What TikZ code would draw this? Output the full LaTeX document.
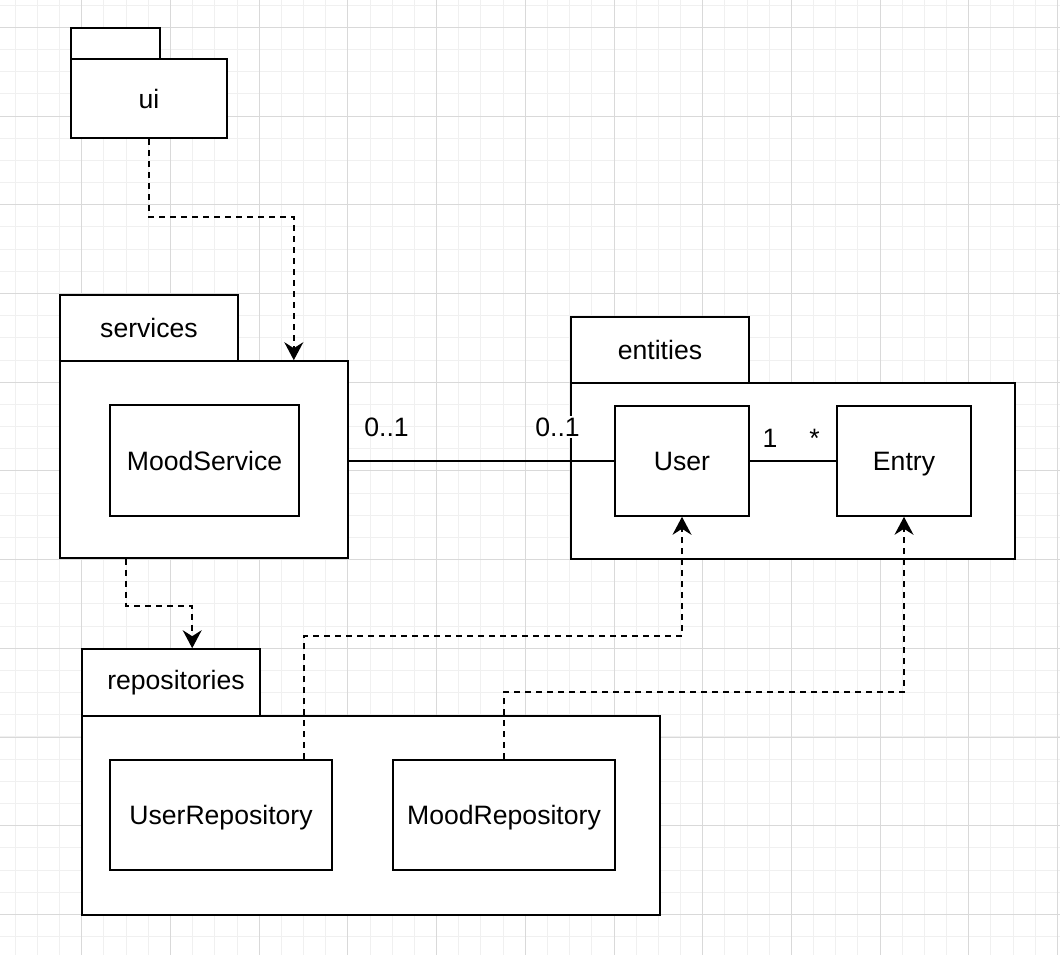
\documentclass[tikz,border=0pt]{standalone}
\usepackage{fontspec}
\setmainfont{Liberation Sans}
\usetikzlibrary{arrows.meta}
\begin{document}
\begin{tikzpicture}[x=1pt,y=-1pt,
  minorgrid/.style={draw=black!6, line width=0.8pt},
  majorgrid/.style={draw=black!15, line width=0.8pt},
  shapebox/.style={draw=black, line width=1.6pt, fill=white, inner sep=0pt,
    font=\fontsize{26.6}{32}\selectfont},
  classbox/.style={shapebox, text height=19pt, text depth=0pt},
  pkgtext/.style={font=\fontsize{26.6}{32}\selectfont, inner sep=0pt},
  mult/.style={font=\fontsize{26.6}{32}\selectfont, inner sep=1.5pt, anchor=base},
  dep/.style={draw=black, line width=1.6pt, dash pattern=on 6pt off 5pt,
    -{Stealth[length=18pt,width=19pt,inset=6pt]}},
  assoc/.style={draw=black, line width=1.6pt}
]
\useasboundingbox (0,0) rectangle (1060,955);
\fill[white] (0,0) rectangle (1060,955);
% background grid
\foreach \k in {0,...,48} {\path[minorgrid] ({-7+22.175*\k},0) -- ({-7+22.175*\k},955);}
\foreach \k in {0,...,42} {\path[minorgrid] (0,{5.1+22.175*\k}) -- (1060,{5.1+22.175*\k});}
\foreach \k in {1,...,12} {\path[majorgrid] ({-7+88.7*\k},0) -- ({-7+88.7*\k},955);}
\foreach \k in {1,...,11} {\path[majorgrid] (0,{-61.4+88.7*\k}) -- (1060,{-61.4+88.7*\k});}

% ui package
\node[shapebox, minimum width=89pt, minimum height=31pt] (uitab) at (115.5,43.5) {};
\node[shapebox, minimum width=156pt, minimum height=79pt] (uibody) at (149,98.5) {ui};

% services package
\node[shapebox, minimum width=178pt, minimum height=66pt] (svctab) at (149,328) {services};
\node[shapebox, minimum width=288pt, minimum height=197pt] (svcbody) at (204,459.5) {};
\node[classbox, minimum width=189pt, minimum height=111pt] (moodsvc) at (204.5,460.5) {MoodService};

% entities package
\node[shapebox, minimum width=178pt, minimum height=66pt] (enttab) at (660,350) {entities};
\node[shapebox, minimum width=444pt, minimum height=176pt] (entbody) at (793,471) {};
\node[classbox, minimum width=134pt, minimum height=110pt] (user) at (682,461) {User};
\node[classbox, minimum width=134pt, minimum height=110pt] (entry) at (904,461) {Entry};

% repositories package
\node[shapebox, minimum width=178pt, minimum height=67pt,
  label={[pkgtext, xshift=5pt]center:repositories}] (reptab) at (171,682.5) {};
\node[shapebox, minimum width=578pt, minimum height=199pt] (repbody) at (371,815.5) {};
\node[classbox, minimum width=222pt, minimum height=110pt] (urepo) at (221,815) {UserRepository};
\node[classbox, minimum width=222pt, minimum height=110pt] (mrepo) at (504,815) {MoodRepository};

% associations
\draw[assoc] (svcbody.east |- user.west) -- (user.west);
\draw[assoc] (user.east) -- (entry.west);
\node[mult] (m1) at (386.5,436.5) {0..1};
\node[mult, fill=white] (m2) at (557.5,436.5) {0..1};
\node[mult] (m3) at (770,447.5) {1};
\node[mult] (m4) at (814.5,447.5) {*};

% dependencies
\draw[dep] (uibody.south) -- ++(0,78) -| ([xshift=-55pt]svcbody.north east);
\draw[dep] ([xshift=67pt]svcbody.south west) -- ++(0,47) -| ([xshift=111pt]reptab.north west);
\draw[dep] ([xshift=83pt]urepo.north) -- ++(0,-123) -| (user.south);
\draw[dep] (mrepo.north) -- ++(0,-67) -| (entry.south);
\end{tikzpicture}
\end{document}
